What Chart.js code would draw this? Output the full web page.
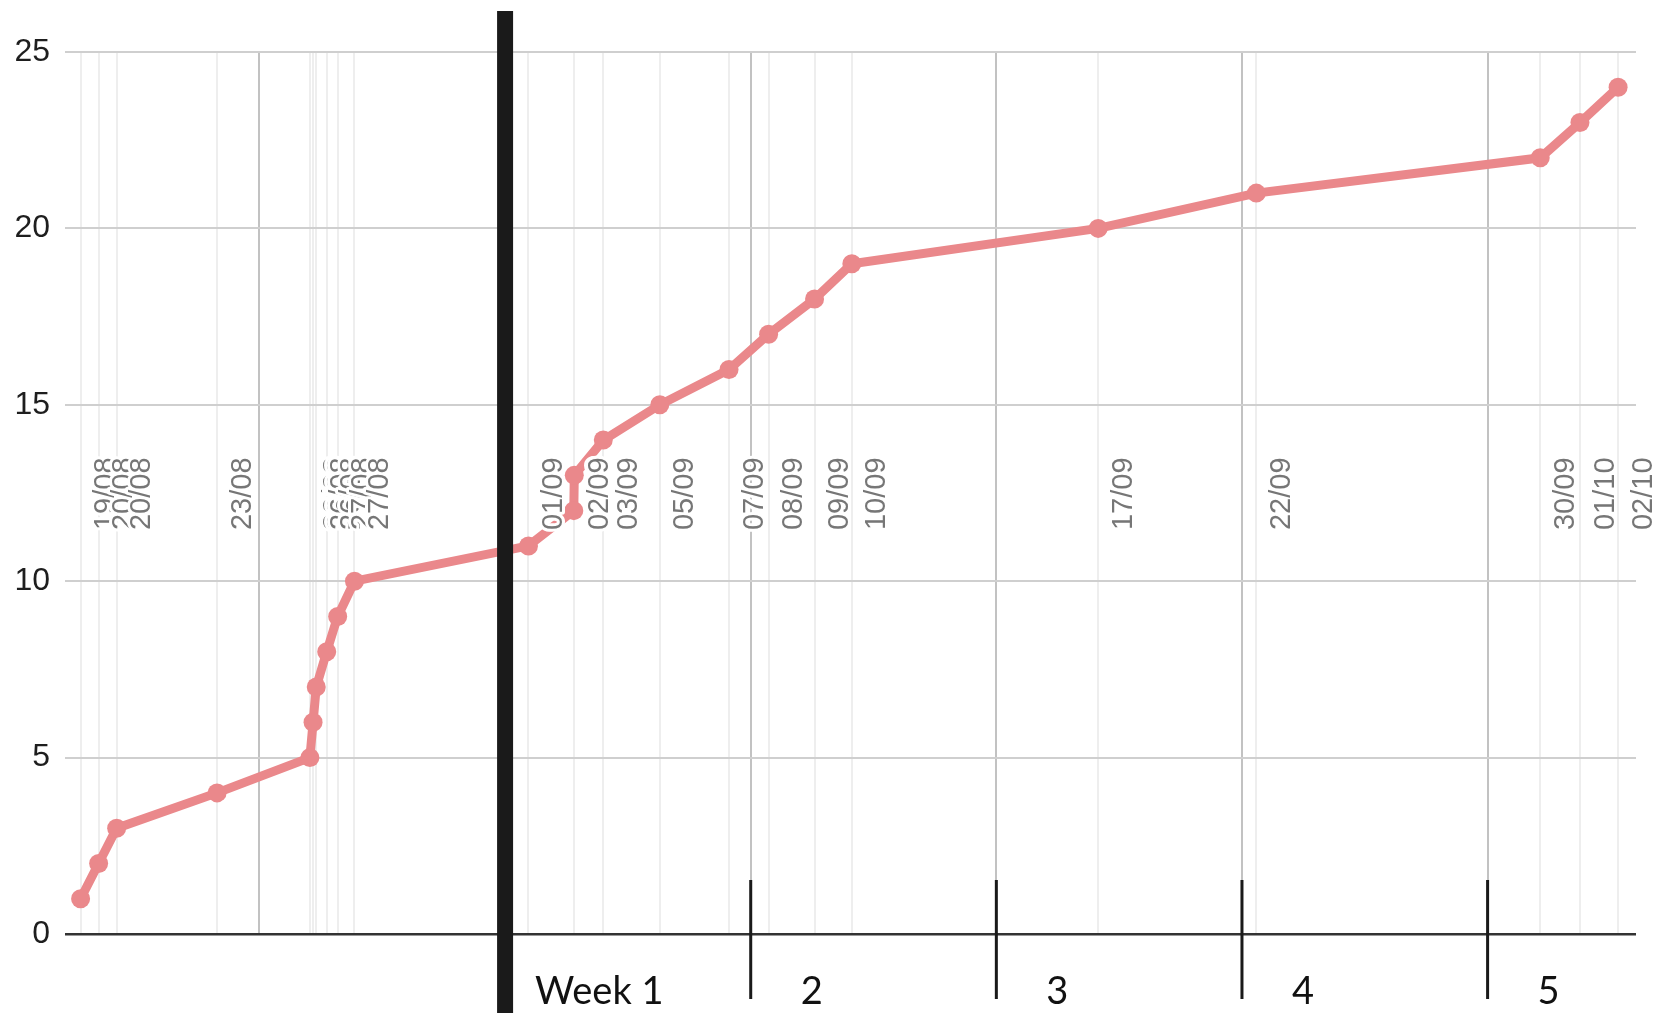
<!DOCTYPE html>
<html>
<head>
<meta charset="utf-8">
<script src="https://cdn.jsdelivr.net/npm/chart.js@4.4.1/dist/chart.umd.min.js"></script>
<style>
  html, body { margin: 0; padding: 0; background: #ffffff; }
  #wrap { width: 1671px; height: 1016px; position: relative; }
</style>
</head>
<body>
<div id="wrap"><canvas id="c" width="1671" height="1016"></canvas></div>
<script>
// ---- data ----
const pointTimes = [
  "2020-08-19T21:40", "2020-08-20T10:00", "2020-08-20T22:20", "2020-08-23T19:00",
  "2020-08-26T10:30", "2020-08-26T12:40", "2020-08-26T14:50", "2020-08-26T22:00",
  "2020-08-27T05:30", "2020-08-27T17:00", "2020-09-01T16:00", "2020-09-02T23:00",
  "2020-09-02T23:20", "2020-09-03T19:10", "2020-09-05T09:50", "2020-09-07T09:10",
  "2020-09-08T12:15", "2020-09-09T19:40", "2020-09-10T21:10", "2020-09-17T21:40",
  "2020-09-22T09:50", "2020-09-30T12:00", "2020-10-01T15:10", "2020-10-02T17:15"
];
const cumulativeCount = [1, 2, 3, 4, 5, 6, 7, 8, 9, 10, 11, 12, 13, 14, 15, 16, 17, 18, 19, 20, 21, 22, 23, 24];
const yTickValues = [0, 5, 10, 15, 20, 25];
const weeklyGridDates = ["2020-08-25T00:00", "2020-09-01T00:00", "2020-09-08T00:00", "2020-09-15T00:00", "2020-09-22T00:00", "2020-09-29T00:00"];
const weekStartDates = ["2020-09-01T00:00", "2020-09-08T00:00", "2020-09-15T00:00", "2020-09-22T00:00", "2020-09-29T00:00"];
const weekLabels = ["Week 1", "2", "3", "4", "5"];
const xRange = ["2020-08-19T11:00", "2020-10-03T05:30"];

// ---- helpers ----
function toDays(s) {
  const m = s.match(/(\d+)-(\d+)-(\d+)T(\d+):(\d+)/);
  return Date.UTC(+m[1], +m[2] - 1, +m[3], +m[4], +m[5]) / 86400000;
}
function ddmm(s) {
  const m = s.match(/(\d+)-(\d+)-(\d+)/);
  return m[3] + "/" + m[2];
}
const xs = pointTimes.map(toDays);
const dateLabels = pointTimes.map(ddmm);
const weeklyX = weeklyGridDates.map(toDays);
const weekX = weekStartDates.map(toDays);
const points = xs.map((x, i) => ({ x: x, y: cumulativeCount[i] }));

const LINE = "rgb(234,136,139)";

const overlay = {
  id: "overlay",
  afterDatasetsDraw(chart) {
    const ctx = chart.ctx;
    const xs_ = chart.scales.x;
    const ys_ = chart.scales.y;
    // rotated date labels with white halo
    ctx.save();
    ctx.font = "29px 'Liberation Sans', Arial, sans-serif";
    ctx.textAlign = "left";
    ctx.textBaseline = "middle";
    ctx.lineJoin = "round";
    const yStart = ys_.getPixelForValue(11.45);
    xs.forEach((x, i) => {
      const px = xs_.getPixelForValue(x) + 25.6;
      ctx.save();
      ctx.translate(px, yStart);
      ctx.rotate(-Math.PI / 2);
      ctx.strokeStyle = "#ffffff";
      ctx.lineWidth = 6;
      ctx.strokeText(dateLabels[i], 0, 0);
      ctx.fillStyle = "#767676";
      ctx.fillText(dateLabels[i], 0, 0);
      ctx.restore();
    });
    ctx.restore();

    // week markers
    ctx.save();
    ctx.fillStyle = "#1a1a1a";
    weekX.forEach((w, i) => {
      const px = xs_.getPixelForValue(w);
      if (i === 0) {
        ctx.fillRect(px - 8, 11, 16, 1002);
      } else {
        ctx.fillRect(px - 1.5, 880, 3, 119);
      }
    });
    ctx.font = "38px Lato, 'Open Sans', sans-serif";
    ctx.textBaseline = "alphabetic";
    ctx.fillStyle = "#111111";
    weekX.forEach((w, i) => {
      const px = xs_.getPixelForValue(w);
      if (i === 0) {
        ctx.textAlign = "left";
        ctx.fillText(weekLabels[i], px + 30, 1004);
      } else {
        ctx.textAlign = "center";
        ctx.fillText(weekLabels[i], px + 61, 1004);
      }
    });
    ctx.restore();
  }
};

new Chart(document.getElementById("c"), {
  type: "line",
  data: {
    datasets: [{
      data: points,
      borderColor: LINE,
      backgroundColor: LINE,
      borderWidth: 9,
      pointRadius: 9.5,
      pointBackgroundColor: LINE,
      pointBorderWidth: 0,
      tension: 0,
      clip: false
    }]
  },
  options: {
    responsive: false,
    animation: false,
    devicePixelRatio: 1,
    layout: { padding: { top: 52, right: 35, left: 0, bottom: 0 } },
    plugins: { legend: { display: false }, tooltip: { enabled: false } },
    scales: {
      x: {
        type: "linear",
        min: toDays(xRange[0]),
        max: toDays(xRange[1]),
        afterBuildTicks(scale) {
          const vals = weeklyX.concat(xs);
          scale.ticks = vals.map(v => ({ value: v }));
        },
        afterFit(scale) { scale.height = 82; },
        ticks: { display: false, autoSkip: false },
        border: { display: false },
        grid: {
          drawTicks: false,
          color(ctx) {
            const v = ctx.tick && ctx.tick.value;
            return weeklyX.some(w => Math.abs(w - v) < 1e-6) ? "#c2c2c2" : "#eeeeee";
          },
          lineWidth: 2
        }
      },
      y: {
        min: 0,
        max: 25,
        afterBuildTicks(scale) {
          scale.ticks = yTickValues.map(v => ({ value: v }));
        },
        afterFit(scale) { scale.width = 65; },
        ticks: {
          font: { family: "'Liberation Sans', Arial, sans-serif", size: 32 },
          color: "#1e1e1e",
          padding: 15
        },
        border: { display: false },
        grid: {
          drawTicks: false,
          color(ctx) { return ctx.tick && ctx.tick.value === 0 ? "#333333" : "#cfcfcf"; },
          lineWidth(ctx) { return ctx.tick && ctx.tick.value === 0 ? 2.5 : 2; }
        }
      }
    }
  },
  plugins: [overlay]
});
</script>
</body>
</html>
